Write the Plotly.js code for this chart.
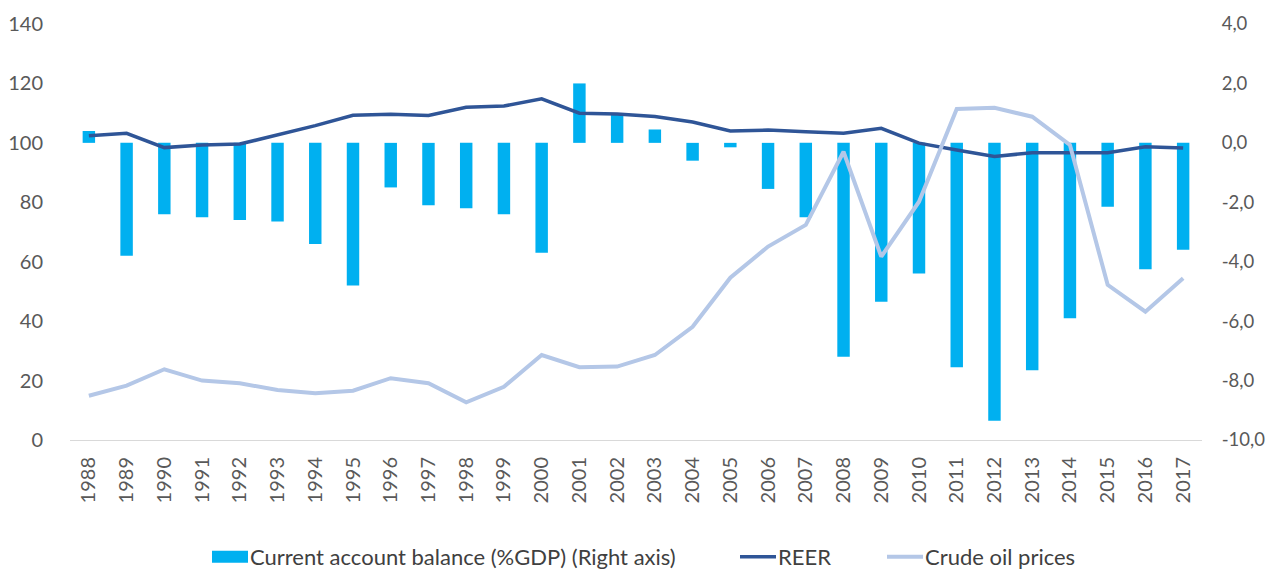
<!DOCTYPE html>
<html>
<head>
<meta charset="utf-8">
<script src="https://cdn.plot.ly/plotly-3.0.1.min.js"></script>
<style>html,body{margin:0;padding:0;background:#fff;}#chart{width:1268px;height:569px;}</style>
</head>
<body>
<div id="chart"></div>
<script>
const years = ['1988','1989','1990','1991','1992','1993','1994','1995','1996','1997','1998','1999','2000','2001','2002','2003','2004','2005','2006','2007','2008','2009','2010','2011','2012','2013','2014','2015','2016','2017'];
const currentAccount = [0.4,-3.8,-2.4,-2.5,-2.6,-2.65,-3.4,-4.8,-1.5,-2.1,-2.2,-2.4,-3.7,2.0,1.0,0.45,-0.6,-0.15,-1.55,-2.5,-7.2,-5.35,-4.4,-7.55,-9.35,-7.65,-5.9,-2.15,-4.25,-3.6];
const reer = [102.4,103.2,98.4,99.3,99.6,102.7,105.8,109.3,109.6,109.2,112.0,112.4,114.8,110.0,109.7,108.9,107.0,104.0,104.3,103.7,103.2,104.9,99.9,97.6,95.4,96.7,96.7,96.7,98.7,98.3];
const crudeOil = [14.9,18.3,23.8,20.0,19.1,16.8,15.7,16.6,20.8,19.1,12.7,17.9,28.6,24.5,24.7,28.6,38.1,54.6,65.1,72.4,97.0,61.7,80.2,111.4,111.8,108.8,99.3,52.2,43.2,54.4];
const leftTicks = [0,20,40,60,80,100,120,140];
const rightTicks = [-10,-8,-6,-4,-2,0,2,4];
const rightTickLabels = ['-10,0','-8,0','-6,0','-4,0','-2,0','0,0','2,0','4,0'];

const traces = [
  {type:'bar', x:years, y:currentAccount, name:'Current account balance (%GDP) (Right axis)',
   marker:{color:'#00B0F0'}, width:0.33, yaxis:'y', legend:'legend'},
  {type:'scatter', mode:'lines', x:years, y:reer, name:'REER',
   line:{color:'#2F5597', width:3.5}, yaxis:'y2', legend:'legend2'},
  {type:'scatter', mode:'lines', x:years, y:crudeOil, name:'Crude oil prices',
   line:{color:'#B4C7E7', width:4}, yaxis:'y2', legend:'legend3'}
];

function leg(x){
  return {orientation:'h', x:x, xanchor:'left', xref:'container',
          y:0.021, yanchor:'middle', yref:'container',
          font:{size:22, color:'#404040'}, bgcolor:'rgba(0,0,0,0)'};
}

const layout = {
  width:1268, height:569,
  margin:{l:70, r:66, t:24, b:129},
  paper_bgcolor:'#fff', plot_bgcolor:'#fff',
  separators:',.',
  font:{family:'Lato, "Open Sans", sans-serif', color:'#595959', size:20},
  showlegend:true,
  legend:leg(210/1268),
  legend2:leg(738/1268),
  legend3:leg(885/1268),
  xaxis:{type:'category', tickangle:-90, showgrid:false, zeroline:false,
         showline:true, linecolor:'#D9D9D9', linewidth:1,
         ticks:'outside', ticklen:8, tickcolor:'rgba(0,0,0,0)', automargin:false,
         tickfont:{size:20, color:'#595959'}},
  yaxis:{side:'right', range:[-10,4], tickvals:rightTicks, ticktext:rightTickLabels,
         showgrid:false, zeroline:false, showline:false,
         ticks:'outside', ticklen:15, tickcolor:'rgba(0,0,0,0)', automargin:false,
         tickfont:{size:18.5, color:'#595959'}},
  yaxis2:{overlaying:'y', side:'left', range:[0,140], tickvals:leftTicks,
          showgrid:false, zeroline:false, showline:false,
          ticks:'outside', ticklen:22, tickcolor:'rgba(0,0,0,0)', automargin:false,
          tickfont:{size:20, color:'#595959'}},
  bargap:0.5
};

Plotly.newPlot('chart', traces, layout, {displayModeBar:false, staticPlot:true}).then(function(){
  // widen legend symbols to match the reference's wide swatches
  document.querySelectorAll('g.legend .legendpoints path').forEach(function(p){
    p.setAttribute('d','M18,6H-18V-6H18Z');
  });
  ['g.legend2','g.legend3'].forEach(function(sel){
    document.querySelectorAll(sel + ' .legendlines path').forEach(function(p){
      p.setAttribute('d','M2,0h36');
    });
  });
});
</script>
</body>
</html>
